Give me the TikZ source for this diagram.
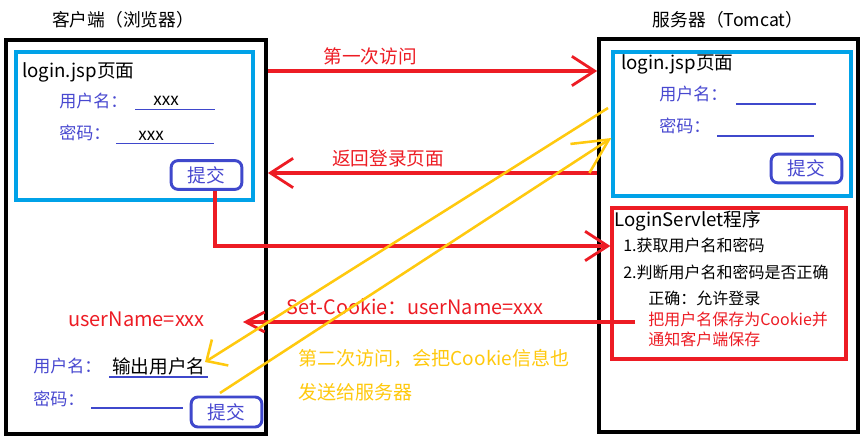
\documentclass[tikz,border=0pt]{standalone}
\usepackage{fontspec}
\setmainfont{Noto Sans CJK SC}
\usetikzlibrary{arrows.meta,fit}
\definecolor{myred}{HTML}{ED1C24}
\definecolor{mycyan}{HTML}{00A2E8}
\definecolor{myindigo}{HTML}{3F48CC}
\definecolor{mylabel}{HTML}{4848D0}
\definecolor{myyellow}{HTML}{FFC90E}
\begin{document}
\begin{tikzpicture}[x=0.75pt,y=-0.75pt,
  blackbox/.style={draw=black,line width=2.8pt,inner sep=0pt},
  cyanbox/.style={draw=mycyan,line width=2.5pt,inner sep=0pt},
  redbox/.style={draw=myred,line width=2.5pt,inner sep=0pt},
  btn/.style={draw=myindigo,line width=2.2pt,rounded corners=5pt,inner sep=0pt,
    minimum width=53pt,minimum height=21.5pt,text=mylabel,font=\fontsize{14}{16}\selectfont},
  title/.style={inner sep=0pt,font=\fontsize{13.3}{15}\selectfont},
  head/.style={anchor=west,inner sep=0pt,font=\fontsize{14}{16}\selectfont},
  lbl/.style={anchor=west,inner sep=0pt,text=mylabel,font=\fontsize{12.8}{15}\selectfont},
  val/.style={inner sep=0pt,font=\fontsize{12.8}{15}\selectfont},
  stxt/.style={anchor=west,inner sep=0pt,font=\fontsize{12}{14}\selectfont},
  arrlbl/.style={inner sep=0pt,text=myred,font=\fontsize{14}{16}\selectfont},
  ylbl/.style={anchor=west,inner sep=0pt,text=myyellow,font=\fontsize{14.3}{16}\selectfont},
  uline/.style={draw=myindigo,line width=0.8pt},
  redarr/.style={draw=myred,line width=2.3pt,-{Straight Barb[length=17pt,width=22pt,line width=2.1pt]}},
  redarrsmall/.style={draw=myred,line width=2.3pt,-{Straight Barb[length=14pt,width=15pt,line width=2.1pt]}},
  yarr/.style={draw=myyellow,line width=1.9pt}
]
\useasboundingbox (0,0) rectangle (867,445);
\fill[white] (0,0) rectangle (867,445);

% titles
\node[title] (ctitle) at (123,20) {客户端（浏览器）};
\node[title] (stitle) at (728,20) {服务器（Tomcat）};

% boxes
\node[blackbox,fit={(6,40) (266,434)}] (client) {};
\node[cyanbox,fit={(16,52) (253,200)}] (cpage) {};
\node[blackbox,fit={(599,39) (858,432)}] (server) {};
\node[cyanbox,fit={(613,52) (851,196)}] (spage) {};
\node[redbox,fit={(612,208) (846,359)}] (servlet) {};

% client login page
\node[head] (cjsp) at (22,72) {login.jsp页面};
\node[lbl] (cuser) at (59,101) {用户名：};
\node[val] (cuserv) at (166,101) {xxx};
\draw[uline] (135,109.5) -- (215,109.5);
\node[lbl] (cpwd) at (59,133) {密码：};
\node[val] (cpwdv) at (151,136) {xxx};
\draw[uline] (116,143.5) -- (214,143.5);
\node[btn] (cbtn) at (206.5,175) {提交};

% server login page
\node[head] (sjsp) at (621,64) {login.jsp页面};
\node[lbl] (suser) at (659,94) {用户名：};
\draw[uline] (736,104) -- (816,104);
\node[lbl] (spwd) at (659,126) {密码：};
\draw[uline] (717,136) -- (814,136);
\node[btn] (sbtn) at (806.5,168.5) {提交};

% servlet
\node[head] (stitle2) at (614,221) {LoginServlet程序};
\node[stxt] (s1) at (623,245) {1.获取用户名和密码};
\node[stxt] (s2) at (623,272) {2.判断用户名和密码是否正确};
\node[stxt] (s3) at (648,298) {正确：允许登录};
\node[stxt,text=myred] (s4) at (648,319) {把用户名保存为Cookie并};
\node[stxt,text=myred] (s5) at (648,339) {通知客户端保存};

% client lower part
\node[anchor=west,inner sep=0pt,text=myred,font=\fontsize{15}{17}\selectfont] (uname) at (68,319) {userName=xxx};
\node[lbl] (cuser2) at (33,366) {用户名：};
\node[anchor=west,inner sep=0pt,font=\fontsize{14}{16}\selectfont] (outname) at (112,366) {输出用户名};
\draw[uline] (109,377) -- (208,377);
\node[lbl] (cpwd2) at (33,399) {密码：};
\draw[uline] (91,408) -- (183,408);
\node[btn,minimum height=22.5pt] (cbtn2) at (226.5,412) {提交};

% arrow labels
\node[arrlbl] (l1) at (370,56) {第一次访问};
\node[arrlbl] (l2) at (388,158) {返回登录页面};
\node[arrlbl,font=\fontsize{14.9}{17}\selectfont] (l3) at (415,307) {Set-Cookie：userName=xxx};
\node[ylbl] (y1) at (298,358) {第二次访问，会把Cookie信息也};
\node[ylbl] (y2) at (298,392) {发送给服务器};

% coordinates
\coordinate (scstart) at (635,322);
\coordinate (scend) at (243,322);
\coordinate (ya) at (608,108);
\coordinate (yb) at (205,362);
\coordinate (yc) at (220,393);

% red arrows
\draw[redarr] (client.east |- 0,71) -- (server.west |- 0,71);
\draw[redarr] (server.west |- 0,173) -- (client.east |- 0,173);
\draw[redarr] (cbtn.south -| 215,0) |- (servlet.west |- 0,246);
\draw[redarrsmall] (scstart) -- (scend);

% yellow arrows
\draw[yarr,-{Straight Barb[length=12pt,width=23pt,line width=1.9pt]}] (ya) -- (yb);
\draw[yarr,-{Straight Barb[length=26pt,width=26pt,line width=1.9pt]}] (yc) -- (spage.west |- 0,138);
\end{tikzpicture}
\end{document}
